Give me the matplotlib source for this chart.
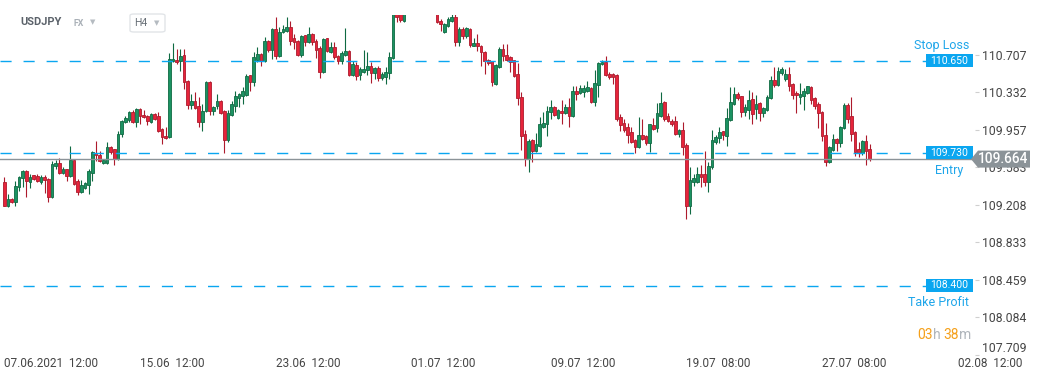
import matplotlib
matplotlib.use("Agg")
import matplotlib.pyplot as plt
from matplotlib.patches import Rectangle, Polygon, FancyBboxPatch
from matplotlib.transforms import blended_transform_factory

plt.rcParams['font.family'] = ['Roboto', 'DejaVu Sans']
plt.rcParams['lines.scale_dashes'] = False

# USDJPY H4 candles, 07.06.2021 12:00 onwards
opens = [109.44, 109.20, 109.27, 109.24, 109.39, 109.48, 109.55, 109.44, 109.50, 109.50,
         109.44, 109.49, 109.47, 109.29, 109.60, 109.63, 109.53, 109.56, 109.50, 109.65,
         109.45, 109.34, 109.38, 109.41, 109.53, 109.73, 109.71, 109.63, 109.63, 109.79,
         109.76, 109.67, 109.92, 110.04, 110.06, 110.14, 110.04, 110.17, 110.11, 110.10,
         110.04, 110.12, 110.09, 109.97, 109.90, 109.89, 110.65, 110.66, 110.65, 110.70,
         110.45, 110.21, 110.25, 110.20, 110.04, 110.15, 110.44, 110.15, 110.20, 110.25,
         110.14, 109.86, 110.11, 110.20, 110.28, 110.30, 110.31, 110.50, 110.44, 110.66,
         110.72, 110.65, 110.85, 110.76, 110.97, 110.70, 110.94, 110.95, 110.99, 110.87,
         110.85, 110.71, 110.90, 110.84, 110.92, 110.85, 110.78, 110.54, 110.87, 110.74,
         110.79, 110.70, 110.65, 110.71, 110.75, 110.51, 110.61, 110.51, 110.54, 110.56,
         110.60, 110.53, 110.58, 110.48, 110.49, 110.53, 110.68, 111.25, 111.14, 111.05,
         111.15, 111.30, 111.40, 111.50, 111.48, 111.55, 111.50, 111.35, 111.12, 111.05,
         110.94, 111.00, 111.05, 111.09, 110.84, 110.97, 110.90, 110.97, 110.80, 110.83,
         110.80, 110.74, 110.66, 110.64, 110.42, 110.59, 110.76, 110.71, 110.68, 110.65,
         110.52, 110.29, 109.92, 109.67, 109.86, 109.75, 109.80, 109.99, 110.02, 110.14,
         110.18, 110.08, 110.15, 110.13, 110.19, 110.10, 110.35, 110.33, 110.34, 110.35,
         110.38, 110.24, 110.41, 110.62, 110.64, 110.52, 110.52, 110.51, 110.09, 110.03,
         109.98, 109.94, 109.86, 109.79, 109.91, 109.89, 109.83, 110.00, 109.98, 110.10,
         110.24, 110.09, 110.05, 110.04, 109.92, 109.96, 109.81, 109.20, 109.44, 109.44,
         109.52, 109.51, 109.44, 109.59, 109.84, 109.88, 109.94, 109.90, 110.06, 110.22,
         110.31, 110.29, 110.14, 110.16, 110.26, 110.17, 110.23, 110.13, 110.16, 110.28,
         110.46, 110.41, 110.53, 110.47, 110.52, 110.42, 110.33, 110.29, 110.30, 110.33,
         110.39, 110.28, 110.22, 110.14, 109.91, 109.64, 109.76, 109.86, 109.83, 109.98,
         110.21, 110.10, 109.94, 109.76, 109.73, 109.85, 109.77]

highs = [109.49, 109.32, 109.28, 109.45, 109.50, 109.56, 109.56, 109.52, 109.51, 109.52,
         109.51, 109.51, 109.48, 109.65, 109.66, 109.68, 109.59, 109.57, 109.80, 109.66,
         109.47, 109.46, 109.44, 109.57, 109.75, 109.85, 109.75, 109.67, 109.84, 109.80,
         109.77, 109.95, 110.06, 110.10, 110.15, 110.16, 110.18, 110.18, 110.16, 110.11,
         110.13, 110.13, 110.14, 109.98, 109.99, 110.73, 110.83, 110.77, 110.77, 110.77,
         110.46, 110.32, 110.34, 110.29, 110.22, 110.45, 110.45, 110.20, 110.32, 110.26,
         110.16, 110.16, 110.25, 110.35, 110.33, 110.39, 110.52, 110.51, 110.74, 110.79,
         110.73, 110.89, 110.86, 110.98, 111.09, 110.99, 111.01, 111.09, 111.05, 110.92,
         110.86, 110.91, 110.91, 110.99, 110.93, 110.87, 110.80, 110.88, 110.88, 110.84,
         110.84, 110.71, 110.75, 110.98, 110.76, 110.65, 110.64, 110.59, 110.76, 110.74,
         110.64, 110.59, 110.60, 110.54, 110.59, 110.74, 111.20, 111.30, 111.20, 111.22,
         111.35, 111.45, 111.55, 111.62, 111.58, 111.66, 111.55, 111.40, 111.20, 111.07,
         111.03, 111.09, 111.15, 111.15, 110.99, 110.99, 110.99, 110.98, 110.88, 110.92,
         110.81, 110.75, 110.67, 110.65, 110.62, 110.79, 110.82, 110.82, 110.70, 110.65,
         110.63, 110.34, 109.96, 109.87, 109.87, 109.93, 110.09, 110.14, 110.20, 110.26,
         110.20, 110.17, 110.26, 110.22, 110.28, 110.40, 110.40, 110.41, 110.41, 110.45,
         110.39, 110.56, 110.64, 110.66, 110.70, 110.54, 110.53, 110.52, 110.12, 110.07,
         110.03, 109.99, 109.87, 110.09, 110.07, 109.91, 110.02, 110.08, 110.23, 110.34,
         110.25, 110.13, 110.07, 110.10, 109.97, 110.04, 109.83, 109.59, 109.52, 109.59,
         109.61, 109.75, 109.64, 109.96, 109.91, 109.99, 109.95, 110.18, 110.39, 110.39,
         110.34, 110.30, 110.22, 110.36, 110.34, 110.31, 110.24, 110.19, 110.31, 110.50,
         110.59, 110.59, 110.59, 110.57, 110.59, 110.43, 110.35, 110.43, 110.38, 110.40,
         110.40, 110.29, 110.24, 110.15, 110.03, 109.80, 109.92, 109.88, 110.00, 110.23,
         110.23, 110.29, 109.95, 109.84, 109.86, 109.91, 109.82]

lows = [109.20, 109.19, 109.23, 109.20, 109.35, 109.39, 109.29, 109.38, 109.46, 109.44,
        109.42, 109.33, 109.24, 109.28, 109.57, 109.52, 109.52, 109.45, 109.49, 109.41,
        109.31, 109.33, 109.37, 109.32, 109.45, 109.65, 109.64, 109.62, 109.62, 109.72,
        109.61, 109.66, 109.89, 110.03, 110.04, 110.03, 109.99, 110.02, 110.08, 110.01,
        110.03, 110.06, 109.94, 109.82, 109.87, 109.88, 110.64, 110.62, 110.55, 110.37,
        110.17, 110.17, 110.17, 109.99, 109.95, 110.14, 110.11, 110.11, 110.17, 110.12,
        109.73, 109.84, 110.10, 110.14, 110.19, 110.22, 110.30, 110.35, 110.40, 110.64,
        110.60, 110.64, 110.74, 110.67, 110.67, 110.69, 110.93, 110.94, 110.81, 110.77,
        110.70, 110.69, 110.80, 110.83, 110.81, 110.68, 110.48, 110.53, 110.74, 110.73,
        110.67, 110.62, 110.62, 110.70, 110.50, 110.50, 110.46, 110.46, 110.53, 110.51,
        110.43, 110.47, 110.45, 110.46, 110.42, 110.47, 110.67, 111.04, 111.04, 111.04,
        111.15, 111.25, 111.35, 111.42, 111.38, 111.45, 111.30, 111.16, 111.03, 110.95,
        110.93, 110.99, 111.04, 110.80, 110.80, 110.87, 110.88, 110.79, 110.80, 110.75,
        110.60, 110.52, 110.61, 110.40, 110.41, 110.58, 110.65, 110.65, 110.54, 110.49,
        110.21, 109.76, 109.60, 109.54, 109.64, 109.74, 109.79, 109.98, 109.90, 110.07,
        110.10, 110.07, 110.02, 110.12, 109.99, 110.09, 110.26, 110.32, 110.29, 110.34,
        110.23, 110.20, 110.29, 110.61, 110.50, 110.47, 110.42, 110.05, 109.95, 109.94,
        109.83, 109.83, 109.73, 109.78, 109.86, 109.81, 109.74, 109.96, 109.94, 110.09,
        110.05, 110.04, 110.00, 109.91, 109.89, 109.71, 109.07, 109.12, 109.40, 109.43,
        109.39, 109.40, 109.34, 109.57, 109.82, 109.83, 109.86, 109.80, 110.05, 110.21,
        110.26, 110.09, 110.10, 110.07, 110.02, 110.07, 110.05, 110.09, 110.15, 110.27,
        110.39, 110.40, 110.51, 110.45, 110.35, 110.27, 110.13, 110.22, 110.16, 110.32,
        110.22, 110.17, 109.98, 109.85, 109.60, 109.63, 109.75, 109.75, 109.79, 109.97,
        110.03, 109.85, 109.70, 109.69, 109.71, 109.61, 109.65]

closes = [109.20, 109.27, 109.24, 109.40, 109.49, 109.55, 109.45, 109.49, 109.47, 109.45,
          109.49, 109.46, 109.29, 109.62, 109.63, 109.53, 109.57, 109.50, 109.65, 109.42,
          109.34, 109.40, 109.43, 109.54, 109.73, 109.71, 109.65, 109.66, 109.79, 109.74,
          109.67, 109.92, 110.05, 110.08, 110.14, 110.04, 110.17, 110.10, 110.09, 110.05,
          110.12, 110.07, 109.95, 109.89, 109.88, 110.67, 110.67, 110.64, 110.70, 110.44,
          110.21, 110.25, 110.18, 110.04, 110.15, 110.44, 110.15, 110.18, 110.25, 110.13,
          109.86, 110.13, 110.22, 110.29, 110.32, 110.34, 110.50, 110.44, 110.68, 110.72,
          110.65, 110.85, 110.76, 110.97, 110.70, 110.94, 110.97, 110.99, 110.85, 110.84,
          110.71, 110.90, 110.84, 110.92, 110.84, 110.76, 110.54, 110.87, 110.75, 110.79,
          110.69, 110.65, 110.73, 110.75, 110.51, 110.62, 110.50, 110.57, 110.57, 110.60,
          110.53, 110.58, 110.48, 110.51, 110.54, 110.69, 111.15, 111.09, 111.06, 111.15,
          111.30, 111.40, 111.50, 111.48, 111.55, 111.50, 111.35, 111.20, 111.04, 111.02,
          111.02, 111.07, 111.09, 110.84, 110.97, 110.90, 110.98, 110.81, 110.83, 110.80,
          110.74, 110.65, 110.63, 110.44, 110.61, 110.76, 110.70, 110.66, 110.64, 110.50,
          110.28, 109.90, 109.67, 109.85, 109.75, 109.82, 110.02, 110.03, 110.15, 110.18,
          110.11, 110.15, 110.13, 110.19, 110.10, 110.35, 110.32, 110.37, 110.37, 110.39,
          110.24, 110.43, 110.63, 110.64, 110.51, 110.49, 110.49, 110.07, 110.01, 109.96,
          109.91, 109.84, 109.79, 109.91, 109.87, 109.83, 110.01, 109.97, 110.12, 110.23,
          110.07, 110.05, 110.02, 109.92, 109.96, 109.79, 109.20, 109.46, 109.47, 109.52,
          109.49, 109.44, 109.60, 109.86, 109.89, 109.94, 109.91, 110.08, 110.24, 110.31,
          110.28, 110.14, 110.18, 110.26, 110.12, 110.22, 110.13, 110.18, 110.29, 110.46,
          110.41, 110.55, 110.56, 110.52, 110.40, 110.31, 110.31, 110.32, 110.35, 110.39,
          110.26, 110.20, 110.13, 109.90, 109.64, 109.78, 109.87, 109.83, 109.99, 110.21,
          110.07, 109.92, 109.74, 109.73, 109.85, 109.75, 109.664]

# time axis labels (candle index where each label starts)
date_labels = ["07.06.2021  12:00", "15.06  12:00", "23.06  12:00", "01.07  12:00",
               "09.07  12:00", "19.07  08:00", "27.07  08:00", "02.08  12:00"]
date_pos = [0, 37, 74, 111, 149, 186, 223, 260]

# price axis
price_ticks = [107.709, 108.084, 108.459, 108.833, 109.208, 109.583, 109.957, 110.332, 110.707]

# order levels
stop_loss = 110.650
entry = 109.730
take_profit = 108.400
last_price = 109.664

W, H = 1041, 380
BLUE = '#0aa6f0'
BLUE_TXT = '#1fa6ea'
UP_FILL, UP_EDGE = '#1b9262', '#0f6a42'
DN_FILL, DN_EDGE = '#e6243b', '#ad1a2c'


def fx(px):
    return px / W


def fy(py):
    return 1 - py / H


fig = plt.figure(figsize=(W / 100, H / 100), dpi=100)
ax = fig.add_axes([0, 25 / H, 975 / W, 340 / H])
ax.set_xlim(-1.17, 264.7)
ax.set_ylim(107.705, 111.105)

# candles
for i in range(len(opens)):
    o, h, l, c = opens[i], highs[i], lows[i], closes[i]
    up = c >= o
    ec = UP_EDGE if up else DN_EDGE
    fc = UP_FILL if up else DN_FILL
    ax.vlines(i, l, h, color=ec, lw=0.8, zorder=2)
    ax.bar(i, max(abs(c - o), 0.012), bottom=min(o, c), width=0.72,
           color=fc, edgecolor=ec, linewidth=0.6, zorder=3)

# order lines
dash = (0, (8, 8.6))
for lvl in [stop_loss, entry, take_profit]:
    ax.axhline(lvl, xmin=0, xmax=926 / 975, color=BLUE, lw=1.0, linestyle=dash, zorder=4)
ax.axhline(last_price, color='#8b9398', lw=1.0, zorder=4)

# label boxes for levels
tr = blended_transform_factory(ax.transAxes, ax.transData)
for lvl in [stop_loss, entry, take_profit]:
    ax.add_patch(Rectangle((926 / 975, lvl - 0.065), 47 / 975, 0.13, transform=tr,
                           facecolor=BLUE, edgecolor='none', zorder=5, clip_on=False))
    ax.text(949.5 / 975, lvl, '%.3f' % lvl, transform=tr, ha='center', va='center',
            color='white', fontsize=7.5, zorder=6)

fig.text(fx(942), fy(45), 'Stop Loss', ha='center', va='center', color=BLUE_TXT, fontsize=9)
fig.text(fx(949), fy(170), 'Entry', ha='center', va='center', color=BLUE_TXT, fontsize=9)
fig.text(fx(938), fy(302), 'Take Profit', ha='center', va='center', color=BLUE_TXT, fontsize=9)

# axes styling
for s in ax.spines.values():
    s.set_visible(False)
ax.yaxis.tick_right()
ax.set_yticks(price_ticks, ['%.3f' % t for t in price_ticks])
ax.tick_params(axis='y', length=3, width=0.8, color='#cfcfcf', pad=2,
               labelsize=8.8, labelcolor='#454545')
ax.get_yticklabels()[0].set_verticalalignment('bottom')
ax.set_xticks(date_pos, date_labels)
ax.tick_params(axis='x', length=0, pad=1.5, labelsize=8.5, labelcolor='#454545')
for lab in ax.get_xticklabels():
    lab.set_horizontalalignment('left')

# last price tag (covers most of the 109.583 tick label, as in the original)
tr2 = blended_transform_factory(fig.transFigure, ax.transData)
tag = Polygon([(fx(971), last_price), (fx(978), last_price + 0.085),
               (fx(1030), last_price + 0.085), (fx(1030), last_price - 0.085),
               (fx(978), last_price - 0.085)], closed=True, transform=tr2,
              facecolor='#8b9398', edgecolor='none', zorder=10)
fig.add_artist(tag)
fig.text(fx(1003), 0, '%.3f' % last_price, transform=tr2, ha='center', va='center',
         color='white', fontsize=9.8, fontweight='medium', zorder=11)
fig.texts[-1].set_y(last_price)

# header
fig.text(fx(20), fy(22), 'USDJPY', ha='left', va='center', color='#5b626a',
         fontsize=8, fontweight='bold')
fig.text(fx(73), fy(23), 'FX', ha='left', va='center', color='#a9b0b7',
         fontsize=6.3, fontweight='bold')
fig.text(fx(93), fy(22), '\u25BC', ha='center', va='center', color='#b5bbc1',
         fontsize=5, family='DejaVu Sans')
fig.add_artist(FancyBboxPatch((fx(130), fy(32)), fx(35), 18 / H,
                              boxstyle='round,pad=0,rounding_size=0.004',
                              transform=fig.transFigure, facecolor='white',
                              edgecolor='#e2e5e8', lw=1))
fig.text(fx(134), fy(23), 'H4', ha='left', va='center', color='#676e76', fontsize=7.5)
fig.text(fx(157), fy(23), '\u25BC', ha='center', va='center', color='#b5bbc1',
         fontsize=5, family='DejaVu Sans')

# countdown
renderer = fig.canvas.get_renderer()
x = 917
for s, c in [('03', '#f5a01a'), ('h', '#b0b6bc'), ('38', '#f5a01a'), ('m', '#b0b6bc')]:
    t = fig.text(fx(x), fy(335), s, ha='left', va='center', color=c, fontsize=10)
    bb = t.get_window_extent(renderer)
    x = bb.x1 + (3.5 if s == 'h' else 0)

fig.savefig('out.png', dpi=100, facecolor='white')
